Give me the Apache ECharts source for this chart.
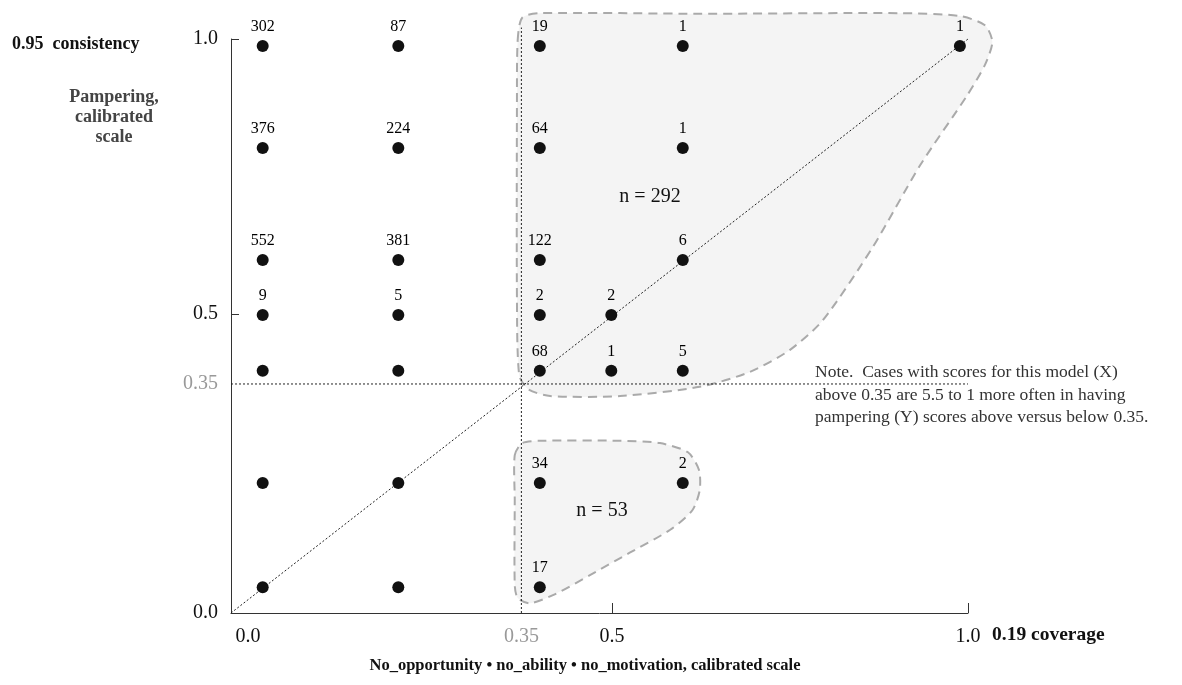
<!DOCTYPE html>
<html>
<head>
<meta charset="utf-8">
<script src="https://cdn.jsdelivr.net/npm/echarts@6/dist/echarts.min.js"></script>
<style>
html,body{margin:0;padding:0;background:#fff;}
#main{width:1182px;height:685px;}
</style>
</head>
<body>
<div id="main"></div>
<script>
// Display-scale positions (schematic calibrated scale) of the score columns / rows
var xCols = [0.043, 0.227, 0.419, 0.516, 0.613, 0.989];
var yRows = [0.988, 0.810, 0.615, 0.519, 0.422, 0.2265, 0.045];

// Case counts per cell: [colIndex, rowIndex, label]
var cells = [
  [0,0,'302'],[1,0,'87'],[2,0,'19'],[4,0,'1'],[5,0,'1'],
  [0,1,'376'],[1,1,'224'],[2,1,'64'],[4,1,'1'],
  [0,2,'552'],[1,2,'381'],[2,2,'122'],[4,2,'6'],
  [0,3,'9'],[1,3,'5'],[2,3,'2'],[3,3,'2'],
  [0,4,''],[1,4,''],[2,4,'68'],[3,4,'1'],[4,4,'5'],
  [0,5,''],[1,5,''],[2,5,'34'],[4,5,'2'],
  [0,6,''],[1,6,''],[2,6,'17']
];

// Axis tick labels
var xTickVals = [0.023, 0.394, 0.517, 1.0];
var xTickLabels = ['0.0', '0.35', '0.5', '1.0'];
var yTickVals = [0, 0.399, 0.521, 1.0];
var yTickLabels = ['0.0', '0.35', '0.5', '1.0'];
var xTickMarks = [0.517, 1.0];
var yTickMarks = [0.521, 1.0];

// Threshold (0.35) position on the display scale
var xThreshold = 0.394;
var yThreshold = 0.399;

// Region outlines (display-scale units)
var bigRegion = [
  [0.389,0.998],[0.395,1.037],[0.419,1.045],[0.636,1.044],[0.908,1.045],[0.989,1.040],
  [1.023,1.024],[1.033,0.995],[1.023,0.955],[0.999,0.902],[0.935,0.780],[0.871,0.638],
  [0.803,0.510],[0.758,0.458],[0.704,0.420],[0.636,0.394],[0.528,0.378],[0.433,0.378],
  [0.403,0.390],[0.391,0.415],[0.388,0.545],[0.388,0.894]
];
var smallRegion = [
  [0.385,0.275],[0.395,0.296],[0.419,0.300],[0.528,0.300],[0.582,0.296],[0.620,0.280],
  [0.635,0.249],[0.636,0.214],[0.626,0.179],[0.596,0.145],[0.541,0.105],[0.487,0.066],
  [0.440,0.033],[0.406,0.017],[0.389,0.026],[0.385,0.049],[0.385,0.197]
];
var regions = [bigRegion, smallRegion];

var serif = '"Liberation Serif", "DejaVu Serif", serif';

var scatterData = cells.map(function(c){ return [xCols[c[0]], yRows[c[1]], c[2]]; });

var chart = echarts.init(document.getElementById('main'), null, {renderer:'canvas'});
chart.setOption({
  animation: false,
  grid: {left: 231, top: 39, width: 737, height: 574},
  xAxis: {
    type: 'value', min: 0, max: 1,
    splitLine: {show: false},
    axisLine: {show: true, lineStyle: {color: '#333', width: 1}},
    axisTick: {show: true, inside: true, length: 10, customValues: xTickMarks, lineStyle: {color: '#333'}},
    axisLabel: {
      show: true, customValues: xTickVals, margin: 14,
      fontFamily: serif, fontSize: 20, color: '#111',
      formatter: function(v){
        var i = xTickVals.indexOf(v);
        var t = i >= 0 ? xTickLabels[i] : '';
        return t === '0.35' ? '{g|' + t + '}' : t;
      },
      rich: {g: {color: '#999', fontFamily: serif, fontSize: 20}}
    }
  },
  yAxis: {
    type: 'value', min: 0, max: 1,
    splitLine: {show: false},
    axisLine: {show: true, lineStyle: {color: '#333', width: 1}},
    axisTick: {show: true, inside: true, length: 8, customValues: yTickMarks, lineStyle: {color: '#333'}},
    axisLabel: {
      show: true, customValues: yTickVals, margin: 13,
      fontFamily: serif, fontSize: 20, color: '#111',
      formatter: function(v){
        var i = yTickVals.indexOf(v);
        var t = i >= 0 ? yTickLabels[i] : '';
        return t === '0.35' ? '{g|' + t + '}' : t;
      },
      rich: {g: {color: '#999', fontFamily: serif, fontSize: 20}}
    }
  },
  series: [
    {
      type: 'custom',
      name: 'regions',
      clip: false,
      z: 1,
      data: [0, 1],
      renderItem: function(params, api){
        var pts = regions[params.dataIndex].map(function(p){ return api.coord(p); });
        return {
          type: 'polygon',
          shape: {points: pts, smooth: 0.25},
          style: {fill: '#f4f4f4', stroke: '#aaaaaa', lineWidth: 2, lineDash: [9, 6]}
        };
      }
    },
    {
      type: 'line', name: 'diagonal', z: 2, clip: false, symbol: 'none', silent: true,
      data: [[0,0],[1,1]],
      lineStyle: {color: '#222', width: 1, type: [2,2]}
    },
    {
      type: 'line', name: 'hThreshold', z: 2, clip: false, symbol: 'none', silent: true,
      data: [[0, yThreshold],[1.0, yThreshold]],
      lineStyle: {color: '#222', width: 1, type: [2,2]}
    },
    {
      type: 'line', name: 'vThreshold', z: 2, clip: false, symbol: 'none', silent: true,
      data: [[xThreshold, 0],[xThreshold, 1.02]],
      lineStyle: {color: '#222', width: 1, type: [2,2]}
    },
    {
      type: 'scatter', name: 'cases', z: 3,
      symbol: 'circle', symbolSize: 12,
      itemStyle: {color: '#111', opacity: 1},
      data: scatterData,
      label: {
        show: true, position: 'top', distance: 5,
        fontFamily: serif, fontSize: 16, color: '#000',
        formatter: function(p){ return p.value[2]; }
      }
    }
  ],
  graphic: [
    {type: 'text', z: 100, x: 12, y: 44, style: {text: '0.95  consistency', font: 'bold 18px ' + serif, fill: '#111', align: 'left', verticalAlign: 'middle'}},
    {type: 'text', z: 100, x: 114, y: 117, style: {text: 'Pampering,\ncalibrated\nscale', font: 'bold 18px ' + serif, lineHeight: 20, fill: '#444', align: 'center', verticalAlign: 'middle'}},
    {type: 'text', z: 100, x: 992, y: 635, style: {text: '0.19 coverage', font: 'bold 19.5px ' + serif, fill: '#111', align: 'left', verticalAlign: 'middle'}},
    {type: 'text', z: 100, x: 585, y: 666, style: {text: 'No_opportunity \u2022 no_ability \u2022 no_motivation, calibrated scale', font: 'bold 16.5px ' + serif, fill: '#111', align: 'center', verticalAlign: 'middle'}},
    {type: 'text', z: 100, x: 815, y: 395, style: {text: 'Note.  Cases with scores for this model (X)\nabove 0.35 are 5.5 to 1 more often in having\npampering (Y) scores above versus below 0.35.', font: '17.5px ' + serif, lineHeight: 22.5, fill: '#333', align: 'left', verticalAlign: 'middle'}},
    {type: 'text', z: 100, x: 650, y: 197, style: {text: 'n = 292', font: '20px ' + serif, fill: '#111', align: 'center', verticalAlign: 'middle'}},
    {type: 'text', z: 100, x: 602, y: 511, style: {text: 'n = 53', font: '20px ' + serif, fill: '#111', align: 'center', verticalAlign: 'middle'}}
  ]
});
</script>
</body>
</html>
